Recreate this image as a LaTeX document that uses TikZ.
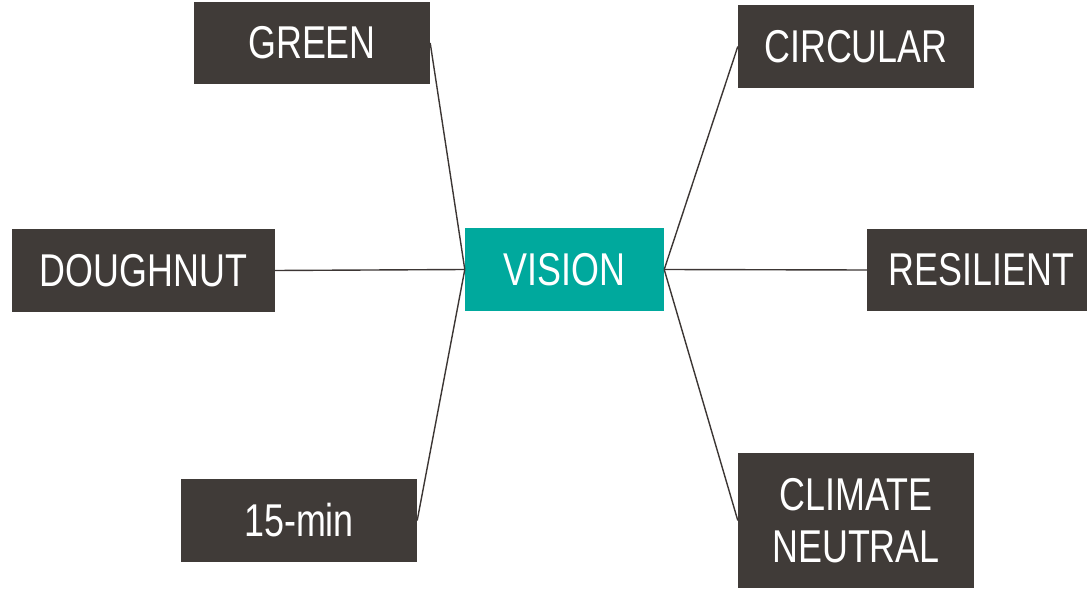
\documentclass[tikz,border=0pt]{standalone}
\usepackage{fontspec}
\setmainfont{Liberation Sans}[FakeStretch=0.78]
\definecolor{boxdark}{RGB}{64,59,56}
\definecolor{teal}{RGB}{0,169,157}
\definecolor{linedark}{RGB}{60,54,52}
\begin{document}
\begin{tikzpicture}[x=1bp,y=-1bp,
  box/.style={fill=boxdark, text=white, inner sep=0pt, align=center,
    minimum width=236bp, minimum height=82bp,
    font=\fontsize{46bp}{52bp}\selectfont},
  hub/.style={box, fill=teal, minimum width=199bp, minimum height=83bp},
  link/.style={draw=linedark, line width=1.4bp}]
\useasboundingbox (0,0) rectangle (1087,589);

% centre node
\node[hub] (vision) at (564.5,269.5) {VISION};

% left branch
\node[box] (green) at (312,43) {GREEN};
\node[box, minimum width=263bp, minimum height=83bp] (doughnut) at (143.5,270.5) {DOUGHNUT};
\node[box, minimum height=83bp] (fifteen) at (299,520.5) {15-min};

% right branch
\node[box, minimum height=83bp] (circular) at (856,46.5) {CIRCULAR};
\node[box, minimum width=220bp] (resilient) at (977,270) {\hspace*{9bp}RESILIENT};
\node[box, minimum height=135bp] (climate) at (856,520.5) {CLIMATE\\NEUTRAL};

% connectors
\draw[link] (green.east) -- (vision.west);
\draw[link] (doughnut.east) -- (vision.west);
\draw[link] (fifteen.east) -- (vision.west);
\draw[link] (vision.east) -- (circular.west);
\draw[link] (vision.east) -- (resilient.west);
\draw[link] (vision.east) -- (climate.west);
\end{tikzpicture}
\end{document}
